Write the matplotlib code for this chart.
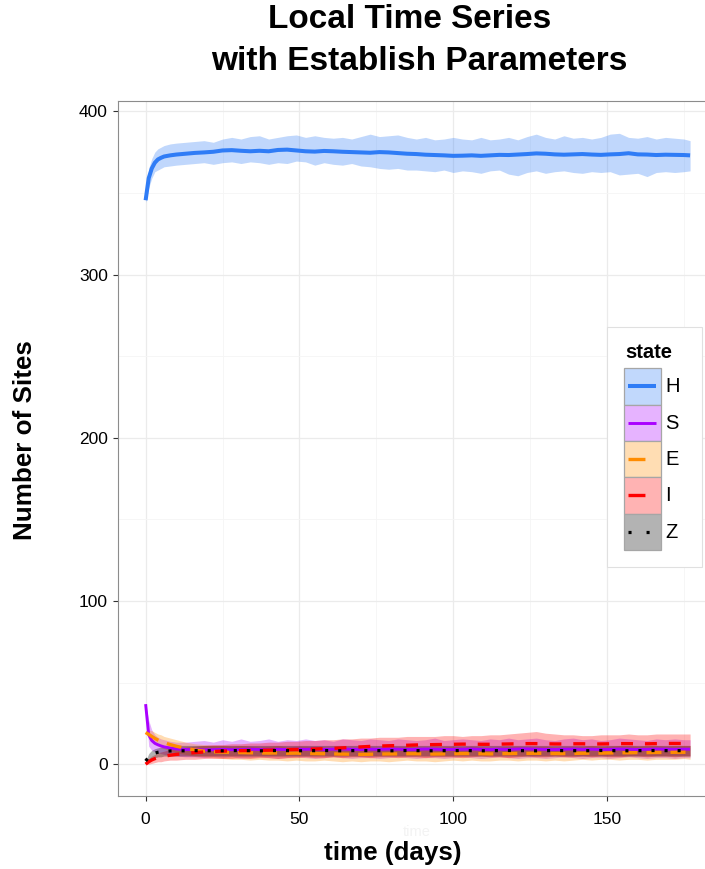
import numpy as np
import matplotlib
matplotlib.use("Agg")
import matplotlib.pyplot as plt
from matplotlib.patches import Rectangle
from matplotlib.colors import to_rgb

plt.rcParams['font.family'] = ['Liberation Sans', 'DejaVu Sans']
plt.rcParams['lines.scale_dashes'] = False

# ---------------------------------------------------------------- data
days = [0, 1, 2, 3, 4, 5, 6, 8, 10,
        13, 16, 19, 22, 25, 28, 31, 34, 37, 40, 43, 46, 49, 52, 55, 58,
        61, 64, 67, 70, 73, 76, 79, 82, 85, 88, 91, 94, 97, 100, 103, 106,
        109, 112, 115, 118, 121, 124, 127, 130, 133, 136, 139, 142, 145,
        148, 151, 154, 157, 160, 163, 166, 169, 172, 175, 177]

H_mean = [345.5, 359, 365, 368.5, 370.5, 371.5, 372.3, 373, 373.5,
          374, 374.5, 374.8, 375.2, 376, 376.2, 375.8, 375.5, 375.8, 375.5,
          376.3, 376.5, 376, 375.5, 375.3, 375.7, 375.5, 375.2, 375, 374.8,
          374.6, 375, 374.8, 374.4, 374, 373.8, 373.4, 373.2, 373, 372.7,
          372.8, 373, 372.7, 373, 373.3, 373.2, 373.5, 373.8, 374.2, 374,
          373.6, 373.4, 373.6, 373.8, 373.5, 373.3, 373.6, 373.8, 374.3,
          373.6, 373.5, 373.2, 373.4, 373.3, 373.2, 373]
H_high = [347, 365, 371, 375, 377, 378, 379, 380, 380.5,
          381, 381.5, 382, 381, 383, 384, 383, 384.5, 385, 383,
          384, 385, 385.5, 384, 385, 384, 383.5, 384, 383, 384.5,
          386, 384.5, 385, 385.5, 384, 383, 384, 382.5, 383, 384,
          383, 382.5, 384, 382.5, 383, 384, 382.5, 384.5, 386, 384,
          383, 385, 383.5, 384, 383, 384, 386, 386.5, 384,
          383.5, 384.5, 383, 384, 383.5, 383, 382]
H_low = [344, 353, 359, 363, 364, 365, 366, 366.5, 367,
         367.5, 368, 368.5, 367.5, 368.5, 369, 368, 369, 368.5, 367.5,
         368.5, 368, 369.5, 369, 367, 368.5, 367.5, 367, 368, 366.5,
         366, 365, 364.5, 365, 364, 364, 363.5, 363, 364, 362.5,
         363.5, 363, 362, 363.5, 364, 361.5, 360.5, 362.5, 363.5, 362,
         363, 363.5, 362.5, 362, 363, 362.5, 363, 361, 361.5,
         362, 360, 362.5, 363, 362.5, 363, 363.5]

S_mean = [36.8, 18, 14.5, 12.8, 11.9, 11.2, 10.6, 9.9, 9.3,
          9.0, 8.9, 8.8, 8.9, 9.1, 8.9, 9.0, 9.2, 9.0, 8.9,
          9.1, 9.0, 9.2, 9.1, 9.3, 9.0, 9.2, 9.3, 9.1, 9.0,
          9.2, 9.1, 9.3, 9.2, 9.0, 9.1, 9.3, 9.2, 9.0, 9.1,
          9.2, 9.3, 9.1, 9.0, 9.2, 9.1, 9.3, 9.4, 9.2, 9.1,
          9.0, 9.2, 9.3, 9.1, 9.2, 9.0, 9.1, 9.3, 9.2,
          9.0, 9.1, 9.3, 9.2, 9.1, 9.2, 9.2]
S_high = [36.8, 27, 21, 18, 16.5, 15.5, 15, 14, 13.5,
          13.5, 14, 14.5, 13.5, 15, 14, 15.5, 14, 14.5, 15.5,
          14, 15, 14.5, 15.5, 14.5, 15, 14, 15.5, 15, 14.5,
          15.5, 15, 14.5, 15.5, 15, 14.5, 15, 16, 14.5, 15,
          15.5, 15, 14.5, 15.5, 15, 16, 15, 15.5, 16, 15,
          14.5, 15.5, 16, 15, 15.5, 14.5, 15, 16, 15.5,
          15, 14.5, 15.5, 15, 15.5, 15, 15]
S_low = [36.8, 11, 8.5, 7.5, 7, 6.5, 6, 5.5, 5,
         4.5, 4.5, 4, 4.5, 4, 4.5, 3.5, 4, 4.5, 4,
         3.5, 4, 4.5, 4, 3.5, 4, 4.5, 4, 3.5, 4,
         4, 3.5, 4, 4.5, 4, 3.5, 4, 4, 3.5, 4,
         4.5, 4, 3.5, 4, 4.5, 4, 3.5, 4, 4, 3.5,
         4, 4.5, 4, 3.5, 4, 4, 3.5, 4, 4.5,
         4, 3.5, 4, 4, 3.5, 4, 4]

E_mean = [19.4, 18.3, 17, 15.8, 14.8, 14, 13.2, 12, 11,
          9.7, 8.7, 8.0, 7.6, 7.4, 7.2, 7.1, 7.0, 6.9, 6.8,
          6.9, 6.7, 6.8, 6.6, 6.5, 6.4, 6.3, 6.2, 6.1, 6.0,
          6.1, 6.2, 6.3, 6.3, 6.4, 6.4, 6.3, 6.2, 6.3, 6.4,
          6.5, 6.5, 6.4, 6.3, 6.4, 6.5, 6.6, 6.6, 6.7, 6.6,
          6.5, 6.5, 6.6, 6.7, 6.8, 6.8, 6.9, 7.0, 7.0,
          7.1, 7.1, 7.2, 7.2, 7.3, 7.3, 7.3]
E_high = [19.4, 21, 20.5, 19.5, 18.5, 18, 17, 16, 15,
          13.5, 12.5, 12, 11.5, 11.5, 11, 11.5, 11, 10.5, 11,
          11.5, 10.5, 11, 11, 10.5, 10.5, 10, 10.5, 10, 10,
          10.5, 10, 10.5, 10.5, 11, 10.5, 10, 10.5, 10.5, 11,
          10.5, 11, 10.5, 10, 10.5, 11, 11, 10.5, 11, 11,
          10.5, 10.5, 11, 11, 11.5, 11, 11, 11.5, 11.5,
          11, 11.5, 11.5, 11, 11.5, 11.5, 11.5]
E_low = [19.4, 15.5, 13.5, 12, 11, 10, 9.5, 8, 7,
         6, 5, 4.5, 4, 3.5, 3, 3, 2.5, 3, 2.5,
         2.5, 2, 2.5, 2, 2, 2.5, 2, 1.5, 2, 1.5,
         2, 2, 1.5, 2, 2.5, 2, 2, 1.5, 2, 2.5,
         2, 2.5, 2, 2, 2.5, 2.5, 2, 2.5, 2.5, 2,
         2.5, 2, 2.5, 3, 2.5, 3, 3, 2.5, 3,
         3, 2.5, 3, 3, 3, 3.5, 3]

I_mean = [0, 1.5, 2.6, 3.4, 4.0, 4.5, 4.9, 5.5, 6.0,
          6.6, 7.1, 7.5, 7.8, 8.0, 8.2, 8.3, 8.4, 8.5, 8.6,
          8.7, 8.9, 9.0, 9.1, 9.3, 9.5, 9.7, 10.0, 10.3, 10.6,
          10.9, 11.1, 11.3, 11.4, 11.6, 11.8, 11.9, 12.0, 12.1, 12.2,
          12.3, 12.3, 12.2, 12.2, 12.3, 12.4, 12.5, 12.6, 12.6, 12.5,
          12.4, 12.4, 12.5, 12.5, 12.4, 12.4, 12.5, 12.6, 12.6,
          12.5, 12.5, 12.6, 12.7, 12.7, 12.7, 12.7]
I_high = [0, 3.5, 5, 6, 7, 7.5, 8, 9, 10,
          10.5, 11, 11.5, 12, 12, 12.5, 12.5, 13, 13, 13.5,
          13.5, 14, 14, 14.5, 14.5, 15, 15, 15.5, 15.5, 16,
          16, 16.5, 16.5, 16.5, 17, 17, 17, 17, 17.5, 17.5,
          17, 17.5, 17.5, 18, 18, 18.5, 19, 19.5, 20, 19,
          18.5, 18, 18, 17.5, 17.5, 18, 18, 18, 18.5,
          18, 18, 18.5, 18.5, 18.5, 18.5, 18.5]
I_low = [0, 0, 0.5, 1, 1.5, 1.5, 2, 2.5, 2.5,
         3, 3, 3.5, 3.5, 3.5, 3.5, 4, 3.5, 4, 4,
         3.5, 4, 4, 4.5, 4, 4, 4.5, 4, 4.5, 4.5,
         4, 4.5, 4.5, 4, 4.5, 4.5, 4, 4.5, 4.5, 4.5,
         4, 4.5, 5, 4.5, 4.5, 4, 4.5, 5, 4.5, 4.5,
         5, 4.5, 4.5, 5, 4.5, 5, 4.5, 4.5, 5,
         5, 4.5, 5, 5, 4.5, 5, 5]

Z_mean = [2.0, 4.3, 5.8, 6.8, 7.3, 7.6, 7.9, 8.1, 8.2,
          8.2, 8.3, 8.2, 8.3, 8.2, 8.3, 8.4, 8.3, 8.2, 8.3,
          8.4, 8.3, 8.2, 8.3, 8.3, 8.4, 8.3, 8.2, 8.3, 8.4,
          8.3, 8.3, 8.2, 8.3, 8.4, 8.3, 8.3, 8.2, 8.3, 8.3,
          8.4, 8.3, 8.2, 8.3, 8.3, 8.4, 8.3, 8.3, 8.2, 8.3,
          8.4, 8.3, 8.3, 8.2, 8.3, 8.4, 8.3, 8.3, 8.2,
          8.3, 8.3, 8.4, 8.3, 8.3, 8.3, 8.3]
Z_high = [2.0, 6.5, 8.5, 9.5, 10, 10.5, 11, 11, 11.5,
          11.5, 11.5, 11.5, 11.5, 11.5, 11.5, 11.5, 11.5, 11.5, 11.5,
          11.5, 11.5, 11.5, 11.5, 11.5, 11.5, 11.5, 11.5, 11.5, 11.5,
          11.5, 11.5, 11.5, 11.5, 11.5, 11.5, 11.5, 11.5, 11.5, 11.5,
          11.5, 11.5, 11.5, 11.5, 11.5, 11.5, 11.5, 11.5, 11.5, 11.5,
          11.5, 11.5, 11.5, 11.5, 11.5, 11.5, 11.5, 11.5, 11.5,
          11.5, 11.5, 11.5, 11.5, 11.5, 11.5, 11.5]
Z_low = [2.0, 2.5, 3.5, 4, 4.5, 4.5, 5, 5, 5,
         5, 5, 5, 5, 5, 5, 5, 5, 5, 5,
         5, 5, 5, 5, 5, 5, 5, 5, 5, 5,
         5, 5, 5, 5, 5, 5, 5, 5, 5, 5,
         5, 5, 5, 5, 5, 5, 5, 5, 5, 5,
         5, 5, 5, 5, 5, 5, 5, 5, 5,
         5, 5, 5, 5, 5, 5, 5]

states = ["H", "S", "E", "I", "Z"]
means = [H_mean, S_mean, E_mean, I_mean, Z_mean]
highs = [H_high, S_high, E_high, I_high, Z_high]
lows = [H_low, S_low, E_low, I_low, Z_low]

y_ticks = [0, 100, 200, 300, 400]
x_ticks = [0, 50, 100, 150]

# ---------------------------------------------------------------- style
colors = {"H": "#2f7cf6", "S": "#aa00ff", "E": "#ff8c00",
          "I": "#ff0000", "Z": "#000000"}
widths = {"H": 2.9, "S": 2.1, "E": 2.4, "I": 2.4, "Z": 2.3}
styles = {"H": "-", "S": "-", "E": (0, (10.8, 6.5)),
          "I": (0, (8.6, 8.6)), "Z": (0, (2.2, 7.2))}
key_styles = {"H": "-", "S": "-", "E": (0, (12.2, 12)),
              "I": (0, (12.2, 12)), "Z": (0, (2.2, 10.8))}
ALPHA = 0.3

W, H = 705, 869
fig = plt.figure(figsize=(W / 100, H / 100), dpi=100)


def fx(px):
    return px / W


def fy(py):
    return 1 - py / H


ax = fig.add_axes([fx(118.4), fy(795.7), (717.3 - 118.4) / W, (795.7 - 101) / H])
ax.set_xlim(-8.85, 185.85)
ax.set_ylim(-19.3, 406.3)

for s, lo, hi in zip(states, lows, highs):
    ax.fill_between(days, lo, hi, color=colors[s], alpha=ALPHA, lw=0, zorder=2)
for s, m in zip(states, means):
    ax.plot(days, m, color=colors[s], lw=widths[s], linestyle=styles[s],
            solid_capstyle="butt", dash_capstyle="butt", zorder=3)

ax.set_xticks(x_ticks)
ax.set_xticks([25, 75, 125, 175], minor=True)
ax.set_yticks(y_ticks)
ax.set_yticks([50, 150, 250, 350], minor=True)
ax.grid(which="major", color="#ebebeb", lw=0.9, zorder=0)
ax.grid(which="minor", color="#f5f5f5", lw=0.6, zorder=0)
ax.set_axisbelow(True)
ax.tick_params(which="major", length=3.6, width=0.8, color="#333333",
               labelsize=12.5, labelcolor="black")
ax.tick_params(axis="y", pad=4)
ax.tick_params(axis="x", pad=8)
ax.tick_params(which="minor", length=0)
for sp in ax.spines.values():
    sp.set_color("#8c8c8c")
    sp.set_linewidth(0.8)

# titles and axis labels
fig.text(fx(410), fy(20), "Local Time Series", fontsize=24, fontweight="bold",
         ha="center", va="center")
fig.text(fx(419), fy(62), "with Establish Parameters", fontsize=24,
         fontweight="bold", ha="center", va="center")
fig.text(fx(417), fy(832), "time", fontsize=10.5, color="#f3f3f3",
         ha="center", va="center")
fig.text(fx(393), fy(853), "time (days)", fontsize=18.7, fontweight="bold",
         ha="center", va="center")
fig.text(fx(25), fy(440), "Number of Sites", fontsize=18.7, fontweight="bold",
         rotation=90, ha="center", va="center")

# legend drawn in pixel coordinates
lx0, lx1, ly0, ly1 = 606.7, 701.7, 327.3, 567
lax = fig.add_axes([fx(lx0), fy(ly1), (lx1 - lx0) / W, (ly1 - ly0) / H])
lax.set_xlim(lx0, lx1)
lax.set_ylim(ly1, ly0)
lax.axis("off")
lax.add_patch(Rectangle((lx0, ly0), lx1 - lx0, ly1 - ly0, facecolor="white",
                        edgecolor="#e0e0e0", lw=0.8, clip_on=False))
lax.text(625, 353, "state", fontsize=14.5, fontweight="bold",
         ha="left", va="center")
key_h = 36.3
for i, s in enumerate(states):
    y0 = 368.3 + i * key_h
    base = np.array(to_rgb(colors[s]))
    face = 1 - ALPHA * (1 - base)
    lax.add_patch(Rectangle((624, y0), 36.7, key_h, facecolor=face,
                            edgecolor="#a6a6a6", lw=0.9))
    yc = y0 + key_h / 2
    lax.plot([628, 656], [yc, yc], color=colors[s], lw=widths[s],
             linestyle=key_styles[s], solid_capstyle="butt",
             dash_capstyle="butt")
    lax.text(665, yc + 0.5, s, fontsize=14.5, ha="left", va="center")

fig.savefig("out.png", dpi=100)
